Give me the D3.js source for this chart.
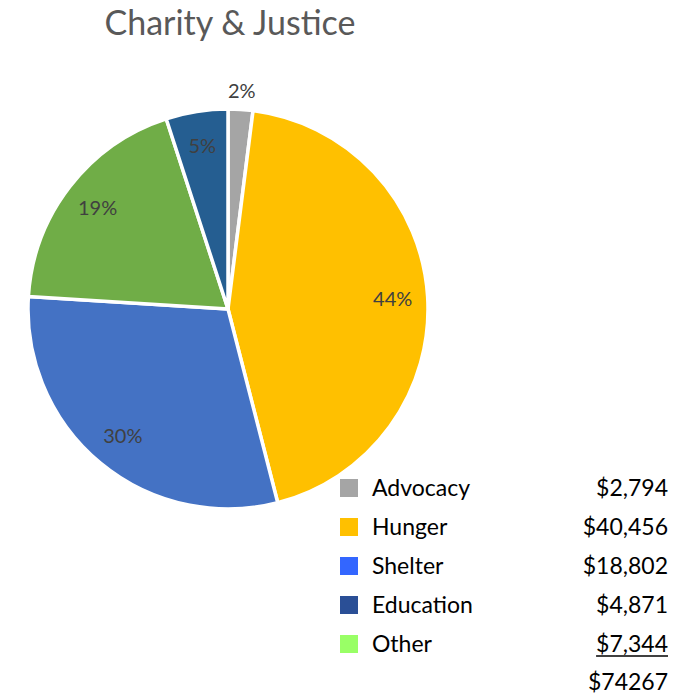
<!DOCTYPE html>
<html>
<head>
<meta charset="utf-8">
<script src="https://cdn.jsdelivr.net/npm/d3@7"></script>
<style>
  body { margin: 0; background: #fff; }
  svg { display: block; font-family: Lato, "Open Sans", sans-serif; }
</style>
</head>
<body>
<svg width="688" height="696"></svg>
<script>
// pie slices, clockwise from 12 o'clock
var sliceNames = ["Advocacy", "Hunger", "Shelter", "Other", "Education"];
var slicePct = [2, 44, 30, 19, 5];
var sliceColors = ["#A5A5A5", "#FFC000", "#4472C4", "#70AD47", "#255E91"];

// legend table
var legendNames = ["Advocacy", "Hunger", "Shelter", "Education", "Other"];
var legendAmounts = ["$2,794", "$40,456", "$18,802", "$4,871", "$7,344"];
var legendColors = ["#A5A5A5", "#FFC000", "#3366FF", "#2A4F96", "#99FF66"];
var totalLabel = "$74267";

var svg = d3.select("svg"),
    cx = 228, cy = 309, radius = 200;

svg.append("text")
    .attr("x", 230).attr("y", 35)
    .attr("text-anchor", "middle")
    .style("font-size", "34px")
    .style("fill", "#595959")
    .text("Charity & Justice");

var slices = sliceNames.map(function (n, i) {
    return {name: n, value: slicePct[i], color: sliceColors[i]};
});

var pie = d3.pie().sort(null).value(function (d) { return d.value; });
var arc = d3.arc().innerRadius(0).outerRadius(radius);
var labelArc = d3.arc().innerRadius(165).outerRadius(165);
var outerArc = d3.arc().innerRadius(218).outerRadius(218);

var g = svg.append("g").attr("transform", "translate(" + cx + "," + cy + ")");
var arcs = pie(slices);

g.selectAll("path.slice")
    .data(arcs)
    .enter().append("path")
    .attr("class", "slice")
    .attr("d", arc)
    .style("fill", function (d) { return d.data.color; })
    .style("stroke", "#fff")
    .style("stroke-width", 3.5)
    .style("stroke-linejoin", "round");

g.selectAll("text.pct")
    .data(arcs)
    .enter().append("text")
    .attr("class", "pct")
    .attr("transform", function (d) {
        var p = d.data.value < 4 ? outerArc.centroid(d) : labelArc.centroid(d);
        return "translate(" + p + ")";
    })
    .attr("text-anchor", "middle")
    .attr("dy", "0.35em")
    .style("font-size", "20px")
    .style("fill", "#404040")
    .text(function (d) { return d.data.value + "%"; });

// legend
var rowY = d3.scaleLinear().domain([0, 1]).range([488, 527]);
var legend = svg.append("g");

var rows = legend.selectAll("g.row")
    .data(legendNames)
    .enter().append("g")
    .attr("class", "row")
    .attr("transform", function (d, i) { return "translate(0," + rowY(i) + ")"; });

rows.append("rect")
    .attr("x", 340).attr("y", -9)
    .attr("width", 18).attr("height", 18)
    .style("fill", function (d, i) { return legendColors[i]; });

rows.append("text")
    .attr("x", 372).attr("dy", "0.35em")
    .style("font-size", "23px")
    .style("fill", "#000")
    .text(function (d) { return d; });

var amountText = rows.append("text")
    .attr("x", 668).attr("dy", "0.35em")
    .attr("text-anchor", "end")
    .style("font-size", "23px")
    .style("fill", "#000")
    .text(function (d, i) { return legendAmounts[i]; });

// underline the last amount, like a sum line
var lastBox = amountText.nodes()[legendNames.length - 1].getBBox();
var lastY = rowY(legendNames.length - 1);
legend.append("line")
    .attr("x1", lastBox.x).attr("x2", lastBox.x + lastBox.width)
    .attr("y1", lastY + 12).attr("y2", lastY + 12)
    .style("stroke", "#000").style("stroke-width", 1.5);

legend.append("text")
    .attr("x", 668).attr("y", rowY(legendNames.length) - 1)
    .attr("dy", "0.35em")
    .attr("text-anchor", "end")
    .style("font-size", "23px")
    .style("fill", "#000")
    .text(totalLabel);
</script>
</body>
</html>
